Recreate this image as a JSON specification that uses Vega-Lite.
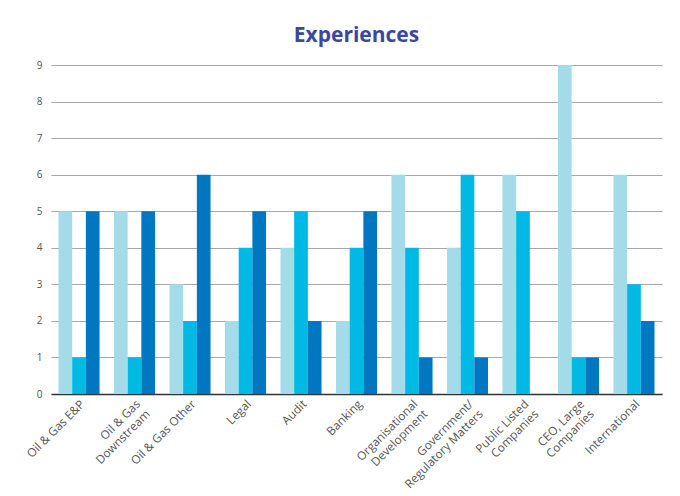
{
  "$schema": "https://vega.github.io/schema/vega-lite/v6.json",
  "width": 611,
  "height": 329,
  "padding": {"left": 24, "top": 25, "right": 15, "bottom": 5},
  "background": "white",
  "title": {"text": "Experiences", "font": "Open Sans", "fontSize": 21, "fontWeight": "bold", "color": "#3b47a0", "anchor": "middle", "offset": 14},
  "data": {"values": [
    {"cat": "Oil & Gas E&P", "s": "A", "v": 5}, {"cat": "Oil & Gas E&P", "s": "B", "v": 1}, {"cat": "Oil & Gas E&P", "s": "C", "v": 5},
    {"cat": "Oil & Gas|Downstream", "s": "A", "v": 5}, {"cat": "Oil & Gas|Downstream", "s": "B", "v": 1}, {"cat": "Oil & Gas|Downstream", "s": "C", "v": 5},
    {"cat": "Oil & Gas Other", "s": "A", "v": 3}, {"cat": "Oil & Gas Other", "s": "B", "v": 2}, {"cat": "Oil & Gas Other", "s": "C", "v": 6},
    {"cat": "Legal", "s": "A", "v": 2}, {"cat": "Legal", "s": "B", "v": 4}, {"cat": "Legal", "s": "C", "v": 5},
    {"cat": "Audit", "s": "A", "v": 4}, {"cat": "Audit", "s": "B", "v": 5}, {"cat": "Audit", "s": "C", "v": 2},
    {"cat": "Banking", "s": "A", "v": 2}, {"cat": "Banking", "s": "B", "v": 4}, {"cat": "Banking", "s": "C", "v": 5},
    {"cat": "Organisational|Development", "s": "A", "v": 6}, {"cat": "Organisational|Development", "s": "B", "v": 4}, {"cat": "Organisational|Development", "s": "C", "v": 1},
    {"cat": "Government/|Regulatory Matters", "s": "A", "v": 4}, {"cat": "Government/|Regulatory Matters", "s": "B", "v": 6}, {"cat": "Government/|Regulatory Matters", "s": "C", "v": 1},
    {"cat": "Public Listed|Companies", "s": "A", "v": 6}, {"cat": "Public Listed|Companies", "s": "B", "v": 5}, {"cat": "Public Listed|Companies", "s": "C", "v": 0},
    {"cat": "CEO, Large|Companies", "s": "A", "v": 9}, {"cat": "CEO, Large|Companies", "s": "B", "v": 1}, {"cat": "CEO, Large|Companies", "s": "C", "v": 1},
    {"cat": "International", "s": "A", "v": 6}, {"cat": "International", "s": "B", "v": 3}, {"cat": "International", "s": "C", "v": 2}
  ]},
  "mark": {"type": "bar"},
  "encoding": {
    "x": {"field": "cat", "type": "nominal", "sort": null,
      "scale": {"paddingInner": 0.26, "paddingOuter": 0.135},
      "axis": {"title": null, "labelAngle": -45, "labelAlign": "right", "labelBaseline": "top", "labelExpr": "split(datum.label, '|')",
        "labelFont": "Open Sans", "labelFontSize": 11.8, "labelColor": "#555555", "ticks": false, "domainColor": "#333333", "domainWidth": 1.5, "labelPadding": 4, "labelLineHeight": 14}},
    "xOffset": {"field": "s", "type": "nominal", "sort": ["A", "B", "C"]},
    "y": {"field": "v", "type": "quantitative", "scale": {"domain": [0, 9], "nice": false},
      "axis": {"title": null, "values": [0,1,2,3,4,5,6,7,8,9], "labelOverlap": false, "domain": false, "ticks": false, "labelFont": "Open Sans", "labelFontSize": 10, "labelColor": "#555555", "labelPadding": 9,
        "gridColor": "#a8a8a8", "gridWidth": 1.2}},
    "color": {"field": "s", "type": "nominal", "scale": {"domain": ["A", "B", "C"], "range": ["#a4dbe8", "#00b9e4", "#0077c0"]}, "legend": null}
  },
  "config": {"view": {"stroke": null}}
}
